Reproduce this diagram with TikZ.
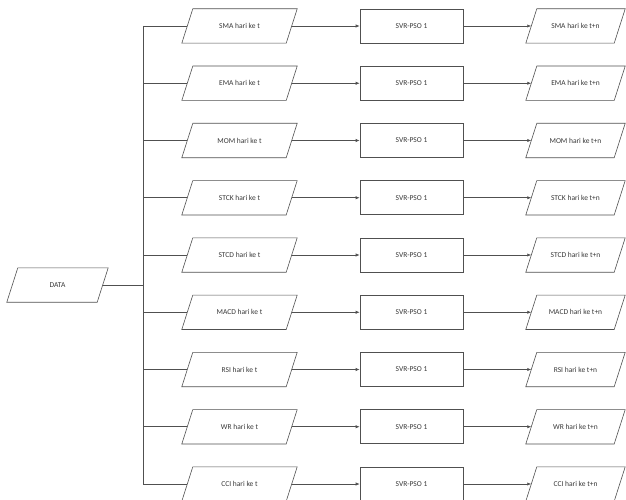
\documentclass[tikz,border=0pt]{standalone}
\usepackage{fontspec}
\setmainfont{Carlito}
\usetikzlibrary{arrows.meta}
\definecolor{linec}{HTML}{505050}
\definecolor{textc}{HTML}{383838}
\newcommand{\parapath}[1]{\draw[draw=linec,line width=0.6pt]
  ([xshift=5.5pt]#1.north west) -- ([xshift=5.5pt]#1.north east) --
  ([xshift=-5.5pt]#1.south east) -- ([xshift=-5.5pt]#1.south west) -- cycle;}
\begin{document}
\begin{tikzpicture}[x=1pt,y=-1pt,
  para/.style={rectangle, minimum height=34pt, inner sep=0pt,
    font=\fontsize{7.5}{8.5}\selectfont, text=textc},
  lpara/.style={para, minimum width=104pt},
  rpara/.style={para, minimum width=88pt},
  dpara/.style={para, minimum width=90pt},
  svrbox/.style={rectangle, draw=linec, line width=0.6pt, minimum width=103pt,
    minimum height=34pt, inner sep=0pt, font=\fontsize{7.5}{8.5}\selectfont, text=textc},
  conn/.style={draw=linec, line width=0.6pt},
  arr/.style={conn, -{Latex[length=4pt,width=3.2pt]}}
]
\useasboundingbox (0,0) rectangle (626,500);
\clip (0,0) rectangle (626,500);
\fill[white] (0,0) rectangle (626,500);

\node[dpara] (data) at (57.5,285) {DATA};
\parapath{data}
\coordinate (bd) at (143,285);
\draw[conn] (data.east) -- (bd);

\foreach \nm [count=\i from 0] in {SMA,EMA,MOM,STCK,STCD,MACD,RSI,WR,CCI} {
  \pgfmathsetmacro{\yy}{26+57.25*\i}
  \node[lpara] (L\i) at (239.5,\yy) {\nm\ hari ke t};
  \parapath{L\i}
  \node[svrbox] (S\i) at (411.5,\yy) {SVR-PSO 1};
  \node[rpara] (R\i) at (575.5,\yy) {\nm\ hari ke t+n};
  \parapath{R\i}
  \coordinate (B\i) at (143,\yy);
  \draw[conn] (B\i) -- (L\i.west);
  \draw[arr] (L\i.east) -- (S\i.west);
  \draw[arr] (S\i.east) -- (R\i.west);
}
\draw[conn, line width=0.8pt] (B0) -- (B8);
\end{tikzpicture}
\end{document}
